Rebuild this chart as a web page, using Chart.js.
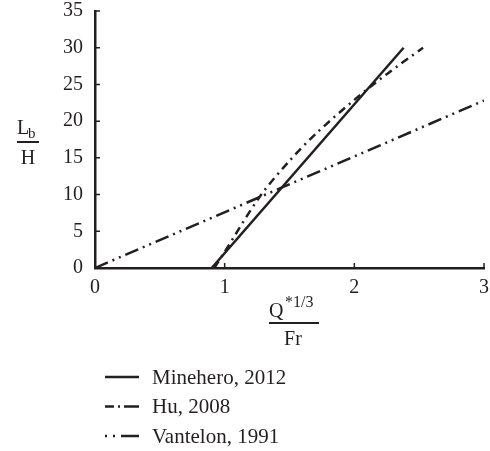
<!DOCTYPE html>
<html>
<head>
<meta charset="utf-8">
<script src="https://cdn.jsdelivr.net/npm/chart.js@4"></script>
<style>
  html, body { margin: 0; padding: 0; background: #fff; }
  #wrap { width: 490px; height: 451px; position: relative; }
</style>
</head>
<body>
<div id="wrap"><canvas id="c"></canvas></div>
<script>
// values
const mineheroX = [0.9, 2.38];
const mineheroY = [0, 30];
const huX = [0.92, 1.0, 1.27, 1.5, 1.71, 2.0, 2.25, 2.53];
const huY = [0, 2.2, 9.7, 14.6, 18.4, 22.9, 26.4, 30];
const vantelonX = [0, 3];
const vantelonY = [0, 22.8];
const xTicks = [0, 1, 2, 3];
const yTicks = [0, 5, 10, 15, 20, 25, 30, 35];
const seriesNames = ["Minehero, 2012", "Hu, 2008", "Vantelon, 1991"];

const INK = "#231f20";
const FONT = "Liberation Serif";
const pts = (xs, ys) => xs.map((x, i) => ({ x, y: ys[i] }));

// inward tick marks, fraction axis titles, stacked legend
const extras = {
    id: "extras",
    afterDraw(chart) {
        const { ctx, chartArea: a, scales: { x, y } } = chart;
        ctx.save();
        ctx.strokeStyle = INK;
        ctx.lineWidth = 1.5;
        ctx.beginPath();
        xTicks.slice(1).forEach(v => {
            const px = x.getPixelForValue(v);
            ctx.moveTo(px, a.bottom); ctx.lineTo(px, a.bottom - 5);
        });
        yTicks.slice(1).forEach(v => {
            const py = y.getPixelForValue(v);
            ctx.moveTo(a.left, py); ctx.lineTo(a.left + 5, py);
        });
        ctx.stroke();

        ctx.fillStyle = INK;
        ctx.textAlign = "left";
        ctx.textBaseline = "alphabetic";
        // y title: Lb / H
        ctx.font = `20px "${FONT}"`;
        ctx.fillText("L", 17, 134);
        ctx.font = `15px "${FONT}"`;
        ctx.fillText("b", 28, 138);
        ctx.fillRect(17, 141, 22, 2);
        ctx.font = `20px "${FONT}"`;
        ctx.textAlign = "center";
        ctx.fillText("H", 28, 164);
        // x title: Q*1/3 / Fr
        ctx.textAlign = "left";
        ctx.fillText("Q", 269, 317);
        ctx.font = `16px "${FONT}"`;
        ctx.fillText("*1/3", 285, 307);
        ctx.fillRect(269, 322, 50, 2);
        ctx.font = `20px "${FONT}"`;
        ctx.textAlign = "center";
        ctx.fillText("Fr", 293, 345);

        // legend
        ctx.font = `21px "${FONT}"`;
        ctx.textAlign = "left";
        ctx.textBaseline = "middle";
        chart.data.datasets.forEach((ds, i) => {
            const ly = 377 + i * 29.5;
            ctx.strokeStyle = ds.borderColor;
            ctx.lineWidth = ds.borderWidth;
            ctx.setLineDash(ds.legendDash || []);
            ctx.beginPath();
            ctx.moveTo(105, ly); ctx.lineTo(139, ly);
            ctx.stroke();
            ctx.setLineDash([]);
            ctx.fillText(ds.label, 152, ly + 1);
        });
        ctx.restore();
    }
};

new Chart(document.getElementById("c"), {
    type: "line",
    data: {
        datasets: [
            { label: seriesNames[0], data: pts(mineheroX, mineheroY), borderDash: [], legendDash: [] },
            { label: seriesNames[1], data: pts(huX, huY), borderDash: [8, 5, 2, 5], legendDash: [9, 4, 2, 4, 16, 0], tension: 0.3 },
            { label: seriesNames[2], data: pts(vantelonX, vantelonY), borderDash: [14, 5, 2, 5, 2, 5], legendDash: [2, 6, 2, 6, 18, 0] },
        ].map(d => ({ borderColor: INK, borderWidth: 2.5, pointRadius: 0, fill: false, ...d })),
    },
    options: {
        responsive: true,
        maintainAspectRatio: false,
        animation: false,
        layout: { padding: { top: 11, right: 6, left: 0, bottom: 0 } },
        plugins: { legend: { display: false }, tooltip: { enabled: false } },
        scales: {
            x: {
                type: "linear", min: 0, max: 3,
                afterFit(s) { s.height = 183; s.paddingLeft = 0; s.paddingRight = 0; },
                grid: { display: false, drawTicks: false },
                border: { color: INK, width: 2.5 },
                ticks: { stepSize: 1, padding: 8, color: INK, font: { family: FONT, size: 20 } },
            },
            y: {
                min: 0, max: 35,
                afterFit(s) { s.width = 95; s.paddingTop = 0; s.paddingBottom = 0; },
                grid: { display: false, drawTicks: false },
                border: { color: INK, width: 2.5 },
                ticks: { stepSize: 5, padding: 12, color: INK, font: { family: FONT, size: 20 } },
            },
        },
    },
    plugins: [extras],
});
</script>
</body>
</html>
